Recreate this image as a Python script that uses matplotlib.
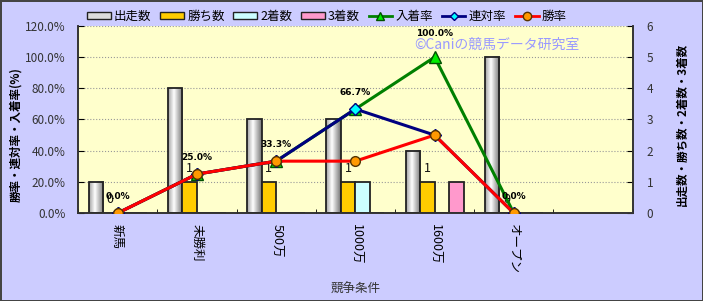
import matplotlib
matplotlib.use("Agg")
import matplotlib.pyplot as plt
import numpy as np
from matplotlib.lines import Line2D
from matplotlib.patches import Patch

plt.rcParams['font.family'] = ['Noto Sans CJK JP', 'DejaVu Sans']

# data
categories = ['新馬', '未勝利', '500万', '1000万', '1600万', 'オープン', '']
starts = [1, 4, 3, 3, 2, 5]
wins = [0, 1, 1, 1, 1, 0]
seconds = [0, 0, 0, 1, 0, 0]
thirds = [0, 0, 0, 0, 1, 0]
win_rate = [0.0, 25.0, 33.3, 33.3, 50.0, 0.0]
quinella_rate = [0.0, 25.0, 33.3, 66.7, 50.0, 0.0]
place_rate = [0.0, 25.0, 33.3, 66.7, 100.0, 0.0]

fig = plt.figure(figsize=(7.03, 3.01), dpi=100)
fig.patch.set_facecolor('#ccccff')
fig.patch.set_edgecolor('#444444')
fig.patch.set_linewidth(2)

ax = fig.add_axes([0.111, 0.292, 0.789, 0.622])
ax2 = ax.twinx()
ax.set_zorder(ax2.get_zorder() + 1)
ax.patch.set_visible(False)
ax2.patch.set_visible(True)
ax2.patch.set_facecolor('#ffffcc')

n = len(starts)
x = np.arange(n)
bw = 0.183
left0 = -0.5 + 0.133

# 出走数 bars with a grey gradient
grad = np.linspace(0, 1, 64)
shade = 1 - 0.55 * np.abs(grad - 0.4) / 0.6
img = np.dstack([shade, shade, shade]).repeat(2, axis=0)
for i, v in enumerate(starts):
    x0 = x[i] + left0
    ax2.imshow(img, extent=[x0, x0 + bw, 0, v], aspect='auto', zorder=2,
               interpolation='bilinear')
ax2.bar(x + left0, starts, bw, align='edge', facecolor='none',
        edgecolor='#222222', linewidth=1.3, zorder=3)
ax2.bar(x + left0 + bw, wins, bw, align='edge', color='#ffcc00',
        edgecolor='#222222', linewidth=1.3, zorder=3)
ax2.bar(x + left0 + 2 * bw, seconds, bw, align='edge', color='#ccffff',
        edgecolor='#222222', linewidth=1.3, zorder=3)
ax2.bar(x + left0 + 3 * bw, thirds, bw, align='edge', color='#ff99cc',
        edgecolor='#222222', linewidth=1.3, zorder=3)
for i, v in enumerate(wins):
    ax2.annotate(str(v), (x[i] + left0 + 1.5 * bw, v), xytext=(0, 5),
                 textcoords='offset points', ha='center', va='bottom',
                 fontsize=9, color='#111111', zorder=4)

# rate lines
ax.plot(x, place_rate, color='#008000', lw=2.2, marker='^', ms=8,
        mfc='#00ee00', mec='#005000', zorder=3)
ax.plot(x, quinella_rate, color='#000080', lw=2.2, marker='D', ms=6,
        mfc='#00ffff', mec='#000080', zorder=4)
ax.plot(x, win_rate, color='#ff0000', lw=2.2, marker='o', ms=7,
        mfc='#ff9900', mec='#553300', zorder=5)
for i, v in enumerate(place_rate):
    off = 17 if v < 100 else 24
    ax.annotate('%.1f%%' % v, (x[i], v), xytext=(0, off * 0.72),
                textcoords='offset points', ha='center', va='center',
                fontsize=6.5, fontweight='bold', family='DejaVu Sans', zorder=6)

ax.set_xlim(-0.5, n + 0.5)
ax.set_ylim(0, 120)
ax2.set_ylim(0, 6)
ax2.set_xlim(-0.5, n + 0.5)

ax.set_xticks(x)
ax.set_xticklabels(categories[:n], rotation=270, fontsize=9)
ax.set_xticks(np.arange(-0.5, n + 1), minor=True)
ax.tick_params(axis='x', which='major', length=0, pad=8)
ax.tick_params(axis='x', which='minor', length=3, direction='in')
ax.set_yticks(np.arange(0, 121, 20))
ax.set_yticklabels(['%.1f%%' % t for t in np.arange(0, 121, 20)])
ax.tick_params(axis='y', direction='in', length=4, labelsize=8.5,
               labelcolor='#333333', pad=9)
ax2.set_yticks(range(7))
ax2.tick_params(axis='y', direction='in', length=4, labelsize=8.5,
                labelcolor='#333333', pad=10)

ax2.set_xticks(np.arange(-0.5, n + 1), minor=True)
ax2.grid(True, which='minor', axis='x', linestyle=':', color='#999999', lw=0.8)
ax2.grid(True, which='major', axis='y', linestyle=':', color='#999999', lw=0.8)
ax2.set_axisbelow(True)

for a in (ax, ax2):
    for s in a.spines.values():
        s.set_color('#333333')
        s.set_linewidth(1.2)
    a.spines['top'].set_visible(False)

ax.set_ylabel('勝率・連対率・入着率(%)', fontsize=8.3, fontweight='bold')
ax.yaxis.set_label_coords(-0.10, 0.42)
ax2.set_ylabel('出走数・勝ち数・2着数・3着数', fontsize=8.3, fontweight='bold',
               rotation=90)
ax2.yaxis.set_label_coords(1.077, 0.475)
ax.set_xlabel('競争条件', fontsize=9, color='#333333')
ax.xaxis.set_label_coords(0.5, -0.37)

ax.text(0.755, 0.90, '©Caniの競馬データ研究室', transform=ax.transAxes,
        ha='center', va='center', fontsize=10, color='#9999ff', zorder=7)

handles = [
    Patch(facecolor='#dddddd', edgecolor='#222222', label='出走数'),
    Patch(facecolor='#ffcc00', edgecolor='#222222', label='勝ち数'),
    Patch(facecolor='#ccffff', edgecolor='#222222', label='2着数'),
    Patch(facecolor='#ff99cc', edgecolor='#222222', label='3着数'),
    Line2D([], [], color='#008000', lw=2, marker='^', ms=6, mfc='#00ee00',
           mec='#005000', label='入着率'),
    Line2D([], [], color='#000080', lw=2, marker='D', ms=4, mfc='#00ffff',
           mec='#000080', label='連対率'),
    Line2D([], [], color='#ff0000', lw=2, marker='o', ms=6, mfc='#ff9900',
           mec='#553300', label='勝率'),
]
fig.legend(handles=handles, loc='center', bbox_to_anchor=(0.465, 0.945), ncol=7,
           frameon=False, fontsize=9, handlelength=1.9, handleheight=0.5,
           handletextpad=0.25, columnspacing=0.7)

fig.savefig('out.png', dpi=100, facecolor=fig.get_facecolor(),
            edgecolor=fig.get_edgecolor())
